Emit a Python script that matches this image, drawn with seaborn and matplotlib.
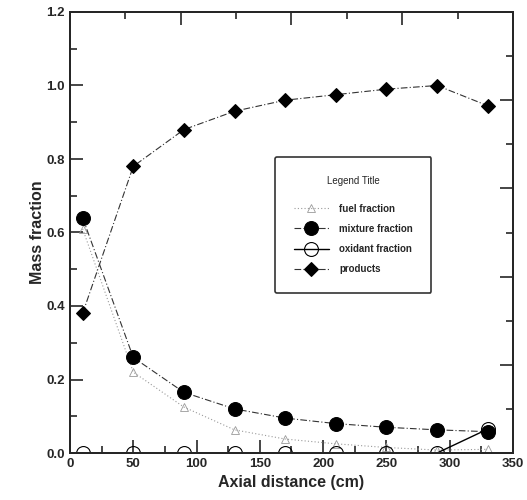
import pandas as pd
import matplotlib
matplotlib.use("Agg")
import matplotlib.pyplot as plt
import seaborn as sns
from matplotlib.ticker import MultipleLocator, FormatStrFormatter

# data
axial_cm = [10, 50, 90, 130, 170, 210, 250, 290, 330]
fuel_fraction = [0.61, 0.22, 0.125, 0.063, 0.038, 0.025, 0.015, 0.008, 0.01]
mixture_fraction = [0.64, 0.26, 0.165, 0.12, 0.095, 0.08, 0.07, 0.063, 0.058]
oxidant_fraction = [0.0, 0.0, 0.0, 0.0, 0.0, 0.0, 0.0, 0.0, 0.065]
products = [0.38, 0.78, 0.88, 0.93, 0.96, 0.975, 0.99, 1.0, 0.945]

df = pd.DataFrame({
    "x": axial_cm,
    "fuel": fuel_fraction,
    "mixture": mixture_fraction,
    "oxidant": oxidant_fraction,
    "products": products,
})

sns.set_style("ticks")
plt.rcParams["font.family"] = ["Liberation Sans", "DejaVu Sans"]

fig = plt.figure(figsize=(5.27, 5.0), dpi=100)
ax = fig.add_axes([0.1328, 0.094, 0.8406, 0.882])

sns.lineplot(data=df, x="x", y="fuel", ax=ax, color="#9a9a9a", lw=0.8,
             linestyle=(0, (1, 2)), marker="^", markersize=6,
             markerfacecolor="none", markeredgecolor="#9a9a9a", markeredgewidth=0.6,
             label="fuel fraction")
sns.lineplot(data=df, x="x", y="mixture", ax=ax, color="#333333", lw=0.8,
             linestyle=(0, (6, 2, 1, 2)), marker="o", markersize=10,
             markerfacecolor="black", markeredgecolor="black",
             label="mixture fraction")
sns.lineplot(data=df, x="x", y="oxidant", ax=ax, color="black", lw=1.0,
             linestyle="-", marker="o", markersize=10,
             markerfacecolor="none", markeredgecolor="black", markeredgewidth=0.8,
             label="oxidant fraction")
sns.lineplot(data=df, x="x", y="products", ax=ax, color="#333333", lw=0.8,
             linestyle=(0, (6, 2, 1, 2)), marker="D", markersize=7,
             markerfacecolor="black", markeredgecolor="black",
             label="products")

ax.set_xlim(0, 350)
ax.set_ylim(0, 1.2)
ax.xaxis.set_major_locator(MultipleLocator(50))
ax.xaxis.set_minor_locator(MultipleLocator(25))
ax.yaxis.set_major_locator(MultipleLocator(0.2))
ax.yaxis.set_minor_locator(MultipleLocator(0.1))
ax.yaxis.set_major_formatter(FormatStrFormatter("%.1f"))
ax.tick_params(which="both", direction="in", width=1.2)
ax.tick_params(which="major", length=9.5, labelsize=9.5)
ax.tick_params(which="minor", length=5)
for lab in ax.get_xticklabels() + ax.get_yticklabels():
    lab.set_fontweight("bold")
for sp in ax.spines.values():
    sp.set_linewidth(1.3)

# top and right frame ticks use their own divisions in the reference
top = ax.twiny()
top.set_xlim(0, 8)
top.xaxis.set_major_locator(MultipleLocator(2))
top.xaxis.set_minor_locator(MultipleLocator(1))
top.tick_params(which="both", direction="in", labeltop=False, width=1.2)
top.tick_params(which="major", length=9.5)
top.tick_params(which="minor", length=5)
right = ax.twinx()
right.set_ylim(0, 10)
right.yaxis.set_major_locator(MultipleLocator(2))
right.yaxis.set_minor_locator(MultipleLocator(1))
right.tick_params(which="both", direction="in", labelright=False, width=1.2)
right.tick_params(which="major", length=9.5)
right.tick_params(which="minor", length=5)
for a in (top, right):
    for sp in a.spines.values():
        sp.set_linewidth(1.3)

ax.set_xlabel("Axial distance (cm)", fontsize=11.5, fontweight="bold")
ax.set_ylabel("Mass fraction", fontsize=11.5, fontweight="bold", labelpad=1)

leg = ax.legend(title="Legend Title", loc="upper left", bbox_to_anchor=(0.463, 0.671),
                fontsize=7, title_fontsize=7, frameon=True, fancybox=True,
                edgecolor="black", labelspacing=1.05, borderpad=1.9,
                handlelength=3.6, handletextpad=1.1, borderaxespad=0)
leg.get_frame().set_linewidth(1.2)
leg._legend_box.sep = 13
for t in leg.get_texts():
    t.set_fontweight("bold")
leg.remove()
right.add_artist(leg)

plt.savefig("out.png", dpi=100)
